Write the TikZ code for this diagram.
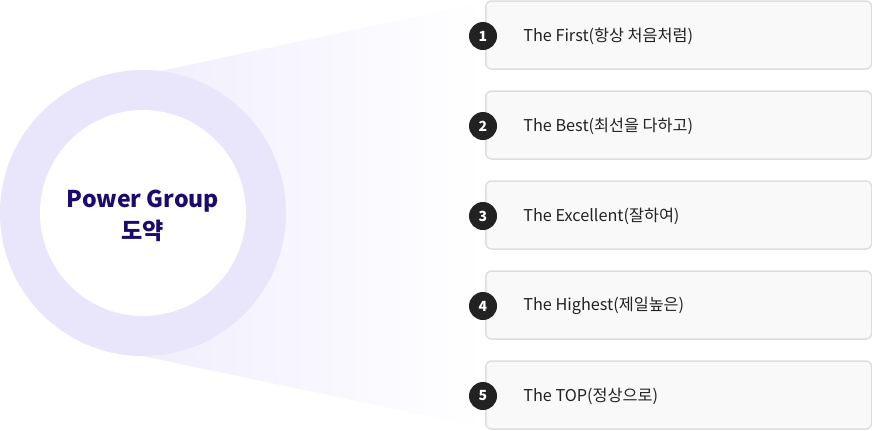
\documentclass[tikz,border=0pt]{standalone}
\usepackage{fontspec}
\setmainfont{Noto Sans CJK KR}
\usetikzlibrary{fadings,shadings}
\definecolor{ringc}{HTML}{E9E5FB}
\definecolor{fanc}{HTML}{F1EEFD}
\definecolor{titlec}{HTML}{1B0B6E}
\definecolor{boxfill}{HTML}{F9F9F9}
\definecolor{boxline}{HTML}{DEDEDE}
\definecolor{numc}{HTML}{222222}
\definecolor{txtc}{HTML}{222222}
\tikzset{
  itembox/.style={draw=boxline, line width=1.5pt*0.75, fill=boxfill, rounded corners=6*0.75pt, minimum width=386*0.75pt, minimum height=68*0.75pt, anchor=west, inner sep=0pt},
  numdot/.style={circle, fill=numc, minimum size=28*0.75pt, inner sep=0pt, text=white, font=\fontsize{10.5}{12}\selectfont\bfseries},
  itemtext/.style={anchor=west, text=txtc, font=\fontsize{12.2}{14}\selectfont, inner sep=0pt},
}
\begin{document}
\begin{tikzpicture}[x=0.75pt,y=-0.75pt]
\useasboundingbox (0,0) rectangle (872,430);
% fan
\shade[left color=fanc, right color=white, shading angle=90] (160,71) -- (484,2) -- (484,428) -- (143,356) -- cycle;
% ring
\fill[ringc] (143,213) circle[radius=143];
\fill[white] (143,213) circle[radius=103];
\node[text=titlec, align=center, font=\fontsize{17.3}{23.5}\selectfont\bfseries] (title) at (143,216) {Power Group\\도약};
% items
\foreach \i/\t in {1/{The First(항상 처음처럼)},2/{The Best(최선을 다하고)},3/{The Excellent(잘하여)},4/{The Highest(제일높은)},5/{The TOP(정상으로)}}{
  \node[itembox] (box\i) at (485,{35+90*(\i-1)}) {};
  \node[numdot] (num\i) at (483,{36+90*(\i-1)}) {\i};
  \node[itemtext] (txt\i) at (523,{36+90*(\i-1)}) {\t};
}
\end{tikzpicture}
\end{document}
